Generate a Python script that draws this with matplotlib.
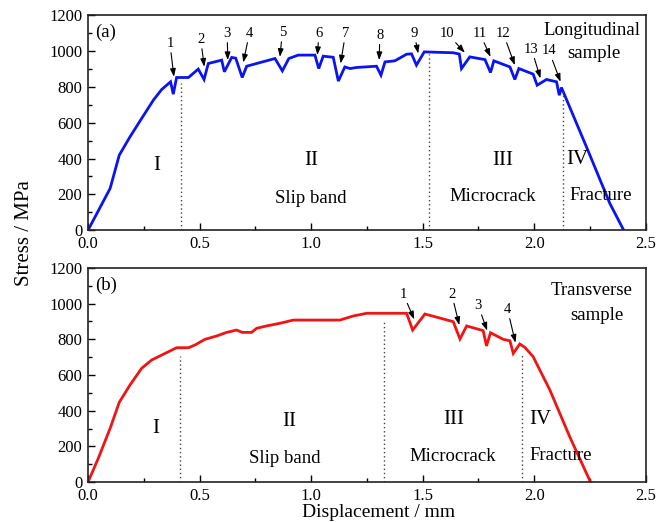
import matplotlib
matplotlib.use("Agg")
import matplotlib.pyplot as plt
from matplotlib.ticker import MultipleLocator

plt.rcParams['font.family'] = ['Liberation Serif', 'DejaVu Serif']

# ---- data: longitudinal sample (a) ----
disp_a = [0.0, 0.099, 0.140, 0.188, 0.240, 0.293, 0.330, 0.370, 0.382, 0.397, 0.450,
          0.494, 0.520, 0.539, 0.599, 0.611, 0.644, 0.662, 0.691, 0.711, 0.838,
          0.871, 0.900, 0.942, 1.017, 1.034, 1.054, 1.099, 1.122, 1.151, 1.174,
          1.204, 1.293, 1.313, 1.331, 1.375, 1.428, 1.450, 1.472, 1.507, 1.637,
          1.664, 1.674, 1.711, 1.779, 1.804, 1.819, 1.891, 1.913, 1.931, 1.995,
          2.013, 2.055, 2.100, 2.112, 2.122, 2.234, 2.339, 2.401]
stress_a = [0, 233, 419, 521, 623, 726, 785, 828, 759, 852, 852,
            899, 841, 930, 949, 884, 964, 960, 852, 915, 958,
            889, 958, 977, 977, 902, 971, 965, 832, 911, 902,
            908, 915, 865, 939, 945, 982, 984, 921, 995, 990,
            983, 902, 967, 952, 880, 945, 911, 841, 902, 871,
            809, 841, 828, 753, 796, 465, 149, 0]

# ---- data: transverse sample (b) ----
disp_b = [0.0, 0.046, 0.099, 0.140, 0.188, 0.240, 0.285, 0.345, 0.397, 0.450,
          0.479, 0.524, 0.577, 0.621, 0.666, 0.691, 0.733, 0.756, 0.800, 0.860,
          0.920, 1.129, 1.189, 1.249, 1.308, 1.428, 1.455, 1.510, 1.637, 1.667,
          1.697, 1.771, 1.786, 1.804, 1.861, 1.891, 1.906, 1.935, 1.958, 1.995,
          2.070, 2.159, 2.252]
stress_b = [0, 133, 301, 447, 544, 637, 684, 721, 753, 753,
            768, 800, 819, 839, 852, 839, 839, 862, 875, 890,
            908, 908, 931, 946, 946, 946, 852, 942, 899, 802,
            875, 849, 763, 837, 800, 792, 721, 774, 755, 703,
            516, 254, 0]

# stage boundaries (x, top of dotted line)
bounds_a_x = [0.415, 1.529, 2.127]
bounds_a_top = [820, 985, 790]
bounds_b_x = [0.413, 1.326, 1.947]
bounds_b_top = [705, 900, 712]

# numbered arrows: label, label position, tip position
arr_a_lab = ['1', '2', '3', '4', '5', '6', '7', '8', '9', '10', '11', '12', '13', '14']
arr_a_txt = [(0.367, 1042), (0.505, 1064), (0.624, 1098), (0.723, 1098), (0.871, 1103),
             (1.035, 1098), (1.154, 1098), (1.308, 1088), (1.462, 1098), (1.610, 1098),
             (1.756, 1098), (1.861, 1098), (1.988, 1010), (2.066, 1000)]
arr_a_tip = [(0.385, 856), (0.521, 912), (0.626, 949), (0.696, 936), (0.860, 967),
             (1.028, 977), (1.132, 930), (1.305, 949), (1.480, 986), (1.689, 990),
             (1.804, 967), (1.913, 921), (2.028, 847), (2.118, 828)]
arr_b_lab = ['1', '2', '3', '4']
arr_b_txt = [(1.413, 1054), (1.630, 1054), (1.749, 989), (1.880, 968)]
arr_b_tip = [(1.462, 912), (1.664, 880), (1.789, 849), (1.916, 781)]

stage_roman = ['I', 'II', 'III', 'IV']
stage_a_pos = [(0.308, 363), (1.0, 390), (1.858, 390), (2.195, 396)]
stage_b_pos = [(0.305, 301), (0.902, 338), (1.640, 348), (2.025, 348)]
stage_names = ['Slip band', 'Microcrack', 'Fracture']
name_a_pos = [(1.0, 179), (1.815, 190), (2.30, 195)]
name_b_pos = [(0.883, 133), (1.634, 142), (2.118, 146)]

sample_a = ['Longitudinal', 'sample']
sample_a_pos = [(0.903, 0.930), (0.907, 0.823)]
sample_b = ['Transverse', 'sample']
sample_b_pos = [(0.903, 0.894), (0.912, 0.780)]

fig = plt.figure(figsize=(6.72, 5.22), dpi=100)
axA = fig.add_axes([0.131, 0.559, 0.830, 0.412])
axB = fig.add_axes([0.131, 0.0766, 0.830, 0.410])


def style(ax):
    ax.set_xlim(0, 2.5)
    ax.set_ylim(0, 1200)
    ax.xaxis.set_major_locator(MultipleLocator(0.5))
    ax.xaxis.set_minor_locator(MultipleLocator(0.25))
    ax.yaxis.set_major_locator(MultipleLocator(200))
    ax.yaxis.set_minor_locator(MultipleLocator(100))
    ax.tick_params(which='both', direction='in', top=False, right=False,
                   labelsize=12)
    ax.tick_params(axis='x', pad=4)
    ax.tick_params(axis='y', pad=4)
    ax.tick_params(which='major', length=5, width=1.0)
    ax.tick_params(which='minor', length=3, width=1.0)
    ax.xaxis.set_major_formatter(plt.FuncFormatter(lambda v, p: f"{v:.1f}"))
    for s in ax.spines.values():
        s.set_linewidth(1.2)
        s.set_color('#222222')


def draw(ax, x, y, color, bx, btop, labs, txt, tip, spos, npos, tag, sample, sample_pos):
    ax.plot(x, y, color=color, lw=2.0, solid_joinstyle='miter')
    for xx, tt in zip(bx, btop):
        ax.plot([xx, xx], [0, tt], ls=(0, (1, 2)), color='#444444', lw=1.0)
    for l, t, p in zip(labs, txt, tip):
        ax.annotate(l, xy=p, xytext=t, ha='center', va='center', fontsize=10.5,
                    arrowprops=dict(arrowstyle='-|>,head_length=0.45,head_width=0.16',
                                    color='black', lw=0.8, shrinkA=0, shrinkB=0))
    for r, p in zip(stage_roman, spos):
        ax.text(p[0], p[1], r, ha='center', va='center', fontsize=15)
    for n, p in zip(stage_names, npos):
        ax.text(p[0], p[1], n, ha='center', va='center', fontsize=13.5)
    ax.text(0.012, 0.92, tag, transform=ax.transAxes, ha='left', va='center', fontsize=13.5)
    for s, p in zip(sample, sample_pos):
        ax.text(p[0], p[1], s, transform=ax.transAxes, ha='center', va='center',
                fontsize=13.5)


style(axA)
style(axB)
draw(axA, disp_a, stress_a, '#0a14f0', bounds_a_x, bounds_a_top, arr_a_lab, arr_a_txt,
     arr_a_tip, stage_a_pos, name_a_pos, '(a)', sample_a, sample_a_pos)
draw(axB, disp_b, stress_b, '#f01414', bounds_b_x, bounds_b_top, arr_b_lab, arr_b_txt,
     arr_b_tip, stage_b_pos, name_b_pos, '(b)', sample_b, sample_b_pos)

fig.text(0.037, 0.553, 'Stress / MPa', rotation=90, ha='center', va='center', fontsize=15)
fig.text(0.563, 0.009, 'Displacement / mm', ha='center', va='baseline', fontsize=14)

fig.savefig('out.png', dpi=100)
